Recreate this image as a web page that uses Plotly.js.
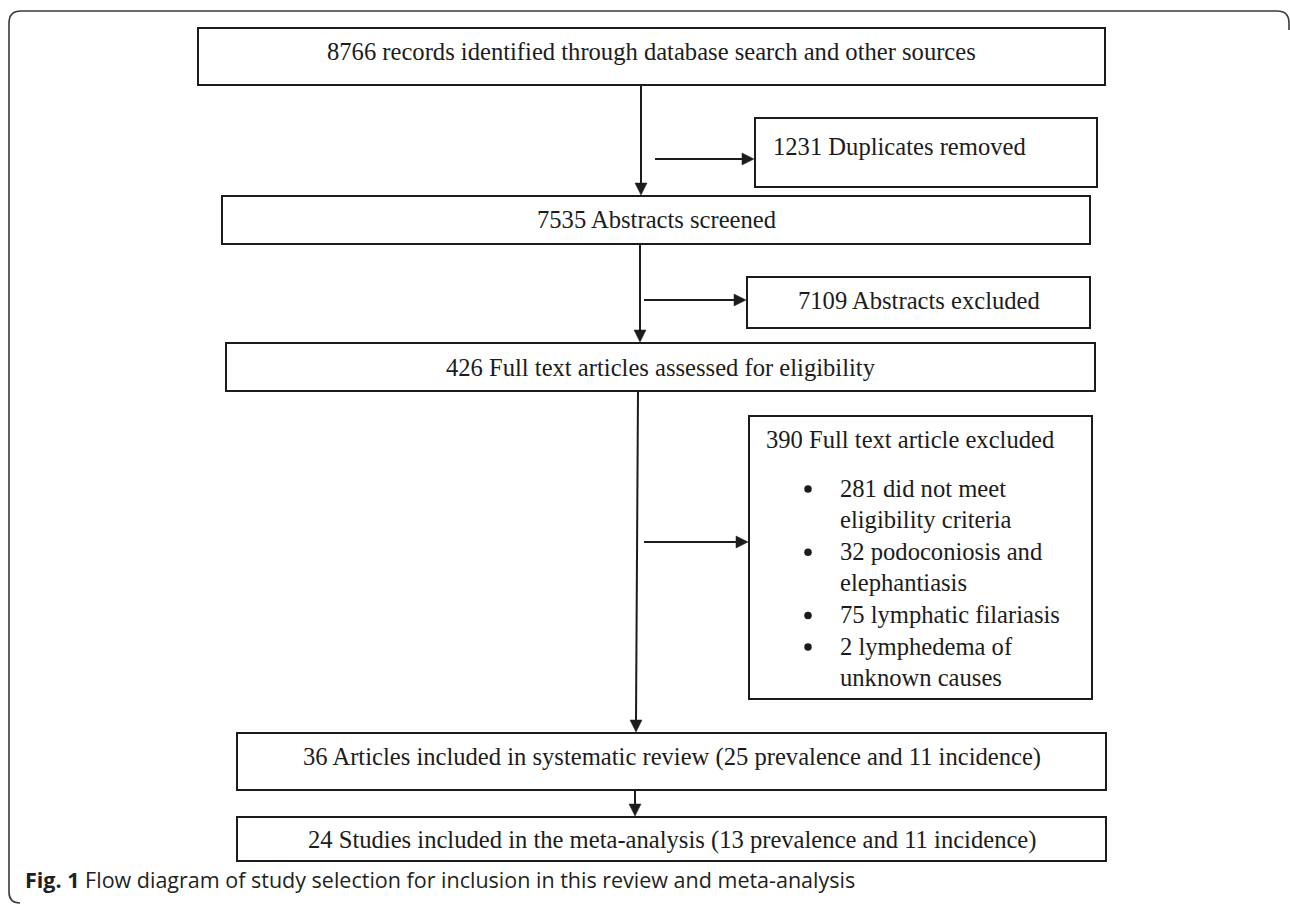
<!DOCTYPE html>
<html>
<head>
<meta charset="utf-8">
<script src="https://cdn.plot.ly/plotly-3.0.1.min.js"></script>
<style>
  html, body { margin: 0; padding: 0; background: #ffffff; }
  #chart { width: 1290px; height: 904px; }
</style>
</head>
<body>
<div id="chart"></div>
<script>
// ---------------- data ----------------
const stageCounts = [8766, 7535, 426, 36, 24];
const stageLabels = [
  "records identified through database search and other sources",
  "Abstracts screened",
  "Full text articles assessed for eligibility",
  "Articles included in systematic review",
  "Studies included in the meta-analysis"
];
const includedPrevalence = [null, null, null, 25, 13];
const includedIncidence  = [null, null, null, 11, 11];

const excludedCounts = [1231, 7109, 390];
const excludedLabels = ["Duplicates removed", "Abstracts excluded", "Full text article excluded"];

const reasonCounts = [281, 32, 75, 2];
const reasonLabels = [
  ["did not meet", "eligibility criteria"],
  ["podoconiosis and", "elephantiasis"],
  ["lymphatic filariasis"],
  ["lymphedema of", "unknown causes"]
];

const captionBold = "Fig. 1";
const captionText = "Flow diagram of study selection for inclusion in this review and meta-analysis";

// ---------------- layout geometry (pixels) ----------------
const stageBoxes = [
  {x0: 198, x1: 1105, y0: 28,  y1: 85,  ty: 51},
  {x0: 222, x1: 1090, y0: 196, y1: 244, ty: 219},
  {x0: 226, x1: 1095, y0: 343, y1: 391, ty: 367},
  {x0: 237, x1: 1106, y0: 733, y1: 790, ty: 757},
  {x0: 237, x1: 1106, y0: 817, y1: 861, ty: 840}
];
const excludedBoxes = [
  {x0: 755, x1: 1097, y0: 118, y1: 187, tx: 772, ty: 146, anchor: "left"},
  {x0: 747, x1: 1090, y0: 277, y1: 328, tx: null, ty: 300, anchor: "center"},
  {x0: 749, x1: 1092, y0: 416, y1: 699, tx: 765, ty: 439, anchor: "left"}
];
const bulletX = 808, bulletTextX = 839, bulletTop = 488, bulletStep = 31.6;

const downArrows = [
  {x0: 641, y0: 85,  x1: 641, y1: 195},
  {x0: 640, y0: 244, x1: 640, y1: 342},
  {x0: 638, y0: 391, x1: 636, y1: 732},
  {x0: 635, y0: 790, x1: 635, y1: 816}
];
const sideArrows = [
  {x0: 655, y: 159, x1: 754},
  {x0: 644, y: 300, x1: 746},
  {x0: 644, y: 542, x1: 748}
];

const serif = "Liberation Serif, Times New Roman, serif";
const sans = "Open Sans, Noto Sans, sans-serif";
const ink = "#1c1c1c";
const fs = 24.6;

const shapes = [];
const annotations = [];

// outer frame
shapes.push({
  type: "path", xref: "x", yref: "y",
  path: "M 20,903 Q 9,903 9,892 L 9,23 Q 9,11 21,11 L 1277,11 Q 1289,11 1289,23 L 1289,30",
  line: {color: "#3a3a3a", width: 1.6}
});

function rect(b) {
  shapes.push({type: "rect", xref: "x", yref: "y", x0: b.x0, x1: b.x1, y0: b.y0, y1: b.y1,
               line: {color: ink, width: 2}, fillcolor: "rgba(0,0,0,0)"});
}
function text(t, x, y, anchor, font) {
  annotations.push({xref: "x", yref: "y", x: x, y: y, text: t, showarrow: false,
                    xanchor: anchor, yanchor: "middle", align: anchor === "center" ? "center" : "left",
                    borderpad: 0, font: font || {family: serif, size: fs, color: ink}});
}

// main stage boxes
stageBoxes.forEach((b, i) => {
  rect(b);
  let t = stageCounts[i] + " " + stageLabels[i];
  if (includedPrevalence[i] !== null) {
    t += " (" + includedPrevalence[i] + " prevalence and " + includedIncidence[i] + " incidence)";
  }
  text(t, (b.x0 + b.x1) / 2, b.ty, "center");
});

// excluded boxes
excludedBoxes.forEach((b, i) => {
  rect(b);
  const t = excludedCounts[i] + " " + excludedLabels[i];
  const x = b.anchor === "center" ? (b.x0 + b.x1) / 2 : b.tx;
  text(t, x, b.ty, b.anchor);
});

// reasons (bulleted list)
const bulletXs = [], bulletYs = [];
let line = 0;
reasonCounts.forEach((c, i) => {
  bulletXs.push(bulletX);
  bulletYs.push(bulletTop + line * bulletStep + 1);
  reasonLabels[i].forEach((lbl, j) => {
    const yy = bulletTop + (line + j) * bulletStep;
    text(j === 0 ? c + " " + lbl : lbl, bulletTextX, yy, "left");
  });
  line += reasonLabels[i].length;
});

// arrows
const headL = 12, headW = 6;
downArrows.forEach(a => {
  shapes.push({type: "line", xref: "x", yref: "y", x0: a.x0, y0: a.y0, x1: a.x1, y1: a.y1 - headL + 1,
               line: {color: ink, width: 2}});
  shapes.push({type: "path", xref: "x", yref: "y",
               path: `M ${a.x1 - headW},${a.y1 - headL} L ${a.x1 + headW},${a.y1 - headL} L ${a.x1},${a.y1} Z`,
               fillcolor: ink, line: {color: ink, width: 0.5}});
});
sideArrows.forEach(a => {
  shapes.push({type: "line", xref: "x", yref: "y", x0: a.x0, y0: a.y, x1: a.x1 - headL + 1, y1: a.y,
               line: {color: ink, width: 2}});
  shapes.push({type: "path", xref: "x", yref: "y",
               path: `M ${a.x1 - headL},${a.y - headW} L ${a.x1 - headL},${a.y + headW} L ${a.x1},${a.y} Z`,
               fillcolor: ink, line: {color: ink, width: 0.5}});
});

// caption
annotations.push({xref: "x", yref: "y", x: 24, y: 879, showarrow: false, xanchor: "left", yanchor: "middle",
                  borderpad: 0,
                  text: "<b>" + captionBold + "</b> " + captionText,
                  font: {family: sans, size: 21.5, color: "#231f20"}});

const layout = {
  width: 1290, height: 904,
  margin: {l: 0, r: 0, t: 0, b: 0, pad: 0},
  paper_bgcolor: "#ffffff", plot_bgcolor: "#ffffff",
  showlegend: false,
  xaxis: {range: [0, 1290], visible: false, fixedrange: true},
  yaxis: {range: [904, 0], visible: false, fixedrange: true},
  shapes: shapes,
  annotations: annotations
};

const bulletTrace = {
  type: "scatter", mode: "markers", x: bulletXs, y: bulletYs, hoverinfo: "skip",
  marker: {symbol: "circle", size: 7.5, color: ink, line: {width: 0}}
};

Plotly.newPlot("chart", [bulletTrace], layout, {displayModeBar: false, staticPlot: true});
</script>
</body>
</html>
